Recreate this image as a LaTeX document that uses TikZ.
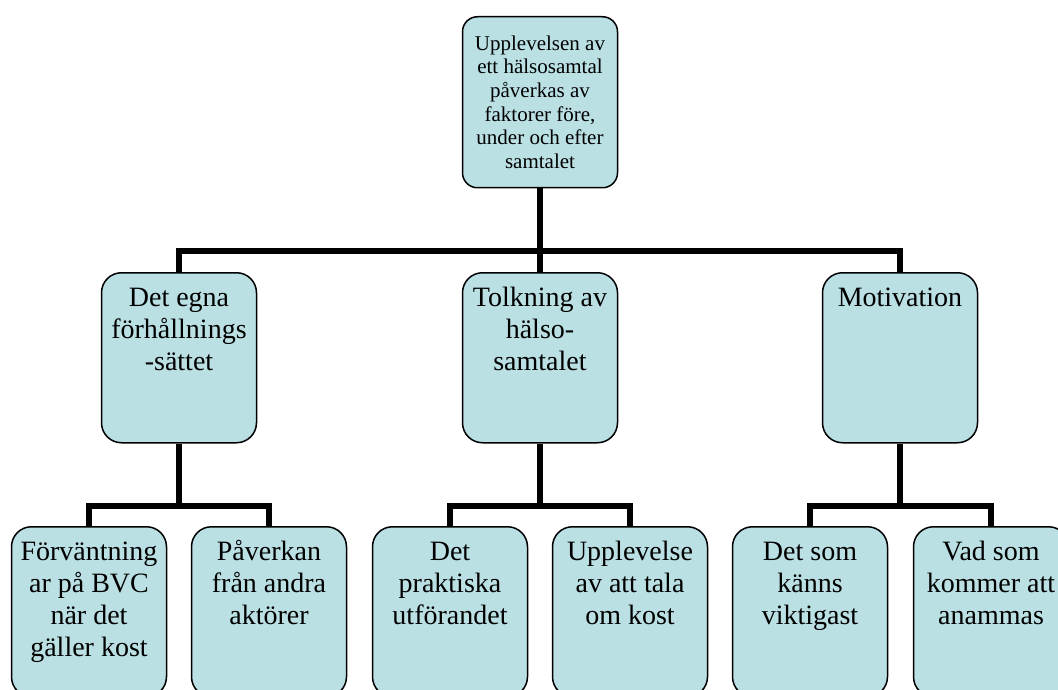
\documentclass[tikz,border=0pt]{standalone}
\usepackage{fontspec}
\setmainfont{Liberation Serif}
\definecolor{boxblue}{RGB}{186,224,228}
\newcommand{\boxtext}[4]{\parbox[c][170pt][t]{150pt}{\fontsize{#1}{#2}\selectfont\centering\vspace*{#3}\strut#4}}

\begin{document}
\begin{tikzpicture}[x=1pt,y=-1pt,
  box/.style={draw, line width=1.5pt, fill=boxblue, rounded corners=20pt,
    inner sep=0pt, minimum width=155pt, minimum height=170pt, anchor=north},%les boites
  conn/.style={line width=5.5pt}]%les traits
\useasboundingbox (0,0) rectangle (1058,690);
\clip (0,0) rectangle (1058,690);
% racine
\node[box, rounded corners=15pt, minimum height=171pt] (top) at (540,16)
  {\boxtext{21}{23.6}{16.5pt}{Upplevelsen av\\ett hälsosamtal\\påverkas av\\faktorer före,\\under och efter\\samtalet}};
% 1ere ramification
\node[box] (det) at (179,272) {\boxtext{28}{32}{11.6pt}{Det egna\\förhållnings\\-sättet}};
\node[box] (tolk) at (540,272) {\boxtext{28}{32}{11.6pt}{Tolkning av\\hälso-\\samtalet}};
\node[box] (mot) at (900,272) {\boxtext{28}{32}{11.6pt}{Motivation}};
% 2eme ramification
\node[box] (forv) at (89,526) {\boxtext{28}{32}{11.6pt}{Förväntning\\ar på BVC\\när det\\gäller kost}};
\node[box] (paverk) at (269,526) {\boxtext{28}{32}{11.6pt}{Påverkan\\från andra\\aktörer}};
\node[box] (prakt) at (450,526) {\boxtext{28}{32}{11.6pt}{Det\\praktiska\\utförandet}};
\node[box] (uppl) at (630,526) {\boxtext{28}{32}{11.6pt}{Upplevelse\\av att tala\\om kost}};
\node[box] (kanns) at (810,526) {\boxtext{28}{32}{11.6pt}{Det som\\känns\\viktigast}};
\node[box] (anam) at (991,526) {\boxtext{28}{32}{11.6pt}{Vad som\\kommer att\\anammas}};

\draw[conn] (top.south) -- (tolk.north);
\draw[conn] (det.north) -- ++(0,-21) -| (mot.north);

\draw[conn] (forv.north) -- ++(0,-20) coordinate (b1) -| (paverk.north);
\draw[conn] (det.south) -- (det.south |- b1);
\draw[conn] (prakt.north) -- ++(0,-20) coordinate (b2) -| (uppl.north);
\draw[conn] (tolk.south) -- (tolk.south |- b2);
\draw[conn] (kanns.north) -- ++(0,-20) coordinate (b3) -| (anam.north);
\draw[conn] (mot.south) -- (mot.south |- b3);

\end{tikzpicture}
\end{document}
